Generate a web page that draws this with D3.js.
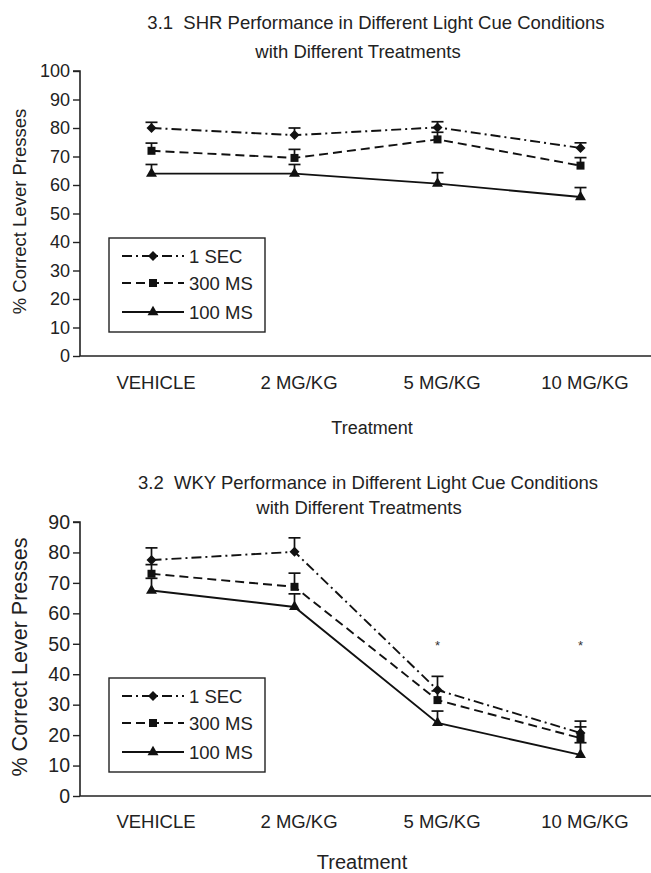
<!DOCTYPE html>
<html>
<head>
<meta charset="utf-8">
<script src="https://cdn.jsdelivr.net/npm/d3@7"></script>
<style>
  html, body { margin: 0; padding: 0; background: #fff; }
  svg { display: block; font-family: "Liberation Sans", Arial, Helvetica, sans-serif; }
  text { white-space: pre; }
</style>
</head>
<body>
<svg id="chart" width="651" height="873"></svg>
<script>
// ---------- data ----------
const categories = ["VEHICLE", "2 MG/KG", "5 MG/KG", "10 MG/KG"];
const seriesNames = ["1 SEC", "300 MS", "100 MS"];

// Panel 3.1 SHR
const shr1sec = [80, 77.5, 80.2, 73];
const shr1secErr = [2, 2.5, 2, 1.8];
const shr300ms = [72, 69.5, 76, 66.8];
const shr300msErr = [2.7, 3, 2.5, 2.8];
const shr100ms = [64, 64, 60.5, 55.8];
const shr100msErr = [3.2, 3.2, 3.8, 3.3];
const shrTicks = [0, 10, 20, 30, 40, 50, 60, 70, 80, 90, 100];

// Panel 3.2 WKY
const wky1sec = [77.5, 80.2, 34.8, 20.7];
const wky1secErr = [4, 4.6, 4.5, 3.9];
const wky300ms = [73, 68.7, 31.5, 19];
const wky300msErr = [3, 4.5, 3, 3.7];
const wky100ms = [67.5, 62.1, 24, 13.5];
const wky100msErr = [4, 4.3, 3.9, 4];
const wkyTicks = [0, 10, 20, 30, 40, 50, 60, 70, 80, 90];
const wkyStars = ["", "", "*", "*"];
const wkyStarValue = 50;

// ---------- drawing ----------
const svg = d3.select("#chart");
const styles = [
  { dash: "10,4,2,4", symbol: d3.symbolSquare, size: 50, rot: 45 },
  { dash: "9,5", symbol: d3.symbolSquare, size: 64, rot: 0 },
  { dash: null, symbol: d3.symbolTriangle, size: 52, rot: 0 }
];

function panel(cfg) {
  const g = svg.append("g");
  const x = d3.scalePoint().domain(categories).range([cfg.left, cfg.right]).padding(0.5);
  const y = d3.scaleLinear().domain([0, cfg.max]).range([cfg.bottom, cfg.top]);

  // titles
  cfg.titles.forEach(t => {
    g.append("text").attr("x", t.x).attr("y", t.y).attr("text-anchor", "middle")
      .attr("font-size", cfg.titleSize).attr("fill", "#222").text(t.text);
  });

  // y axis
  const yAxis = d3.axisLeft(y).tickValues(cfg.ticks).tickSize(7).tickPadding(3).tickFormat(d3.format("d"));
  const ya = g.append("g").attr("transform", `translate(${cfg.left},0)`).call(yAxis);
  ya.select(".domain").attr("stroke", "#222").attr("stroke-width", 1.6).attr("d", `M-7,${y(cfg.max)}H0V${cfg.bottom}`);
  ya.selectAll(".tick line").attr("stroke", "#222").attr("stroke-width", 1.4);
  ya.selectAll(".tick text").attr("font-size", cfg.tickSize).attr("fill", "#222").attr("font-family", "inherit");

  // x axis
  const xAxis = d3.axisBottom(x).tickSize(0).tickPadding(cfg.xPad);
  const xa = g.append("g").attr("transform", `translate(0,${cfg.bottom})`).call(xAxis);
  xa.select(".domain").attr("stroke", "#222").attr("stroke-width", 1.6).attr("d", `M${cfg.left},0H${cfg.right}`);
  xa.selectAll(".tick text").attr("font-size", cfg.catSize).attr("fill", "#222").attr("font-family", "inherit")
    .attr("dx", 4);

  // axis titles
  g.append("text").attr("transform", `translate(${cfg.ylabX},${(cfg.top + cfg.bottom) / 2 - 2}) rotate(-90)`)
    .attr("text-anchor", "middle").attr("font-size", cfg.ylabSize).attr("fill", "#222").text("% Correct Lever Presses");
  g.append("text").attr("x", cfg.xlabX).attr("y", cfg.xlabY).attr("text-anchor", "middle")
    .attr("font-size", cfg.xlabSize).attr("fill", "#222").text("Treatment");

  // series
  cfg.series.forEach((s, i) => {
    const st = styles[i];
    const pts = categories.map((c, j) => ({ c, v: s.values[j], e: s.err[j] }));
    const line = d3.line().x(d => x(d.c)).y(d => y(d.v));
    g.append("path").datum(pts).attr("d", line).attr("fill", "none").attr("stroke", "#111")
      .attr("stroke-width", cfg.lw).attr("stroke-dasharray", st.dash);
    // error bars (upper)
    const eb = g.append("g").attr("stroke", "#111").attr("stroke-width", 1.7);
    pts.forEach(d => {
      eb.append("line").attr("x1", x(d.c)).attr("x2", x(d.c)).attr("y1", y(d.v)).attr("y2", y(d.v + d.e));
      eb.append("line").attr("x1", x(d.c) - 6).attr("x2", x(d.c) + 6).attr("y1", y(d.v + d.e)).attr("y2", y(d.v + d.e));
    });
    g.selectAll(null).data(pts).enter().append("path")
      .attr("d", d3.symbol().type(st.symbol).size(st.size))
      .attr("transform", d => `translate(${x(d.c)},${y(d.v)}) rotate(${st.rot})`)
      .attr("fill", "#111");
  });

  // stars
  if (cfg.stars) {
    categories.forEach((c, j) => {
      if (cfg.stars[j]) g.append("text").attr("x", x(c)).attr("y", y(cfg.starValue) + 6)
        .attr("text-anchor", "middle").attr("font-size", 13).attr("fill", "#333").text(cfg.stars[j]);
    });
  }

  // legend
  const L = cfg.legend;
  g.append("rect").attr("x", L.x).attr("y", L.y).attr("width", L.w).attr("height", L.h)
    .attr("fill", "#fff").attr("stroke", "#222").attr("stroke-width", 1.4);
  seriesNames.forEach((name, i) => {
    const st = styles[i];
    const yy = L.rows[i];
    g.append("line").attr("x1", L.x + 13).attr("x2", L.x + 75).attr("y1", yy).attr("y2", yy)
      .attr("stroke", "#111").attr("stroke-width", cfg.lw).attr("stroke-dasharray", st.dash);
    g.append("path").attr("d", d3.symbol().type(st.symbol).size(st.size))
      .attr("transform", `translate(${L.x + 44},${yy}) rotate(${st.rot})`).attr("fill", "#111");
    g.append("text").attr("x", L.x + 80).attr("y", yy + 6.5).attr("font-size", L.font).attr("fill", "#222").text(name);
  });
}

panel({
  left: 80, right: 652, top: 71, bottom: 356, max: 100, ticks: shrTicks,
  titles: [
    { text: "3.1  SHR Performance in Different Light Cue Conditions", x: 376, y: 29 },
    { text: "with Different Treatments", x: 358, y: 58 }
  ],
  titleSize: 18.5, tickSize: 18, catSize: 18.5, xPad: 20, ylabSize: 18.5, ylabX: 26,
  xlabX: 372, xlabY: 434, xlabSize: 18, lw: 1.9,
  series: [
    { values: shr1sec, err: shr1secErr },
    { values: shr300ms, err: shr300msErr },
    { values: shr100ms, err: shr100msErr }
  ],
  legend: { x: 109, y: 238, w: 156, h: 94, rows: [256, 283, 312], font: 18.5 }
});

panel({
  left: 80, right: 652, top: 522, bottom: 796, max: 90, ticks: wkyTicks,
  titles: [
    { text: "3.2  WKY Performance in Different Light Cue Conditions", x: 368, y: 489 },
    { text: "with Different Treatments", x: 359, y: 514 }
  ],
  titleSize: 18.5, tickSize: 19.5, catSize: 18.5, xPad: 18.5, ylabSize: 21.5, ylabX: 27,
  xlabX: 362, xlabY: 869, xlabSize: 20, lw: 1.9,
  series: [
    { values: wky1sec, err: wky1secErr },
    { values: wky300ms, err: wky300msErr },
    { values: wky100ms, err: wky100msErr }
  ],
  stars: wkyStars, starValue: wkyStarValue,
  legend: { x: 109, y: 678, w: 156, h: 94, rows: [696, 723, 752], font: 18.5 }
});
</script>
</body>
</html>
